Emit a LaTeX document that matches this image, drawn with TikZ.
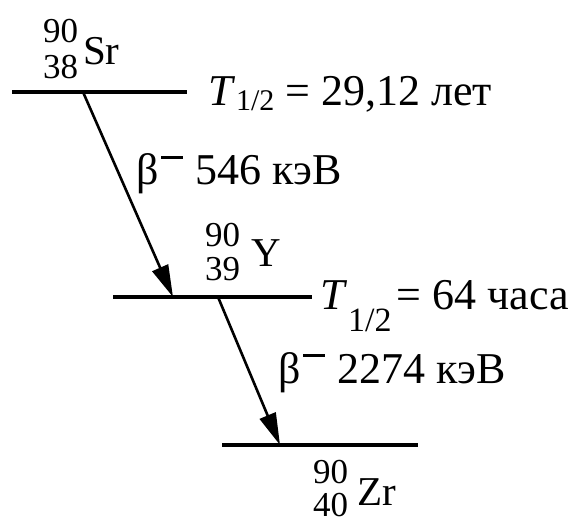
\documentclass[tikz,border=0pt]{standalone}
\usepackage{fontspec}
\setmainfont{Liberation Serif}
\usetikzlibrary{arrows.meta}
% T_{1/2} with a lowered 1/2
\newcommand{\thalf}[2]{\textit{T}\kern.02em\raisebox{#1}{\fontsize{#2}{30}\selectfont 1/2}}
% beta-minus with a long raised bar
\newcommand{\bminus}{β\kern.06em\raisebox{.6em}{\rule{.5em}{.06em}}\hspace{.28em}}
\begin{document}
\begin{tikzpicture}[x=1pt,y=-1pt,
  level/.style={line width=3.8pt},
  decay/.style={line width=2.6pt,-{Triangle[length=32pt,width=17pt]}},
  txt/.style={inner sep=0pt,anchor=base west,font=\fontsize{44}{48}\selectfont},
  sym/.style={inner sep=0pt,anchor=base west,font=\fontsize{41}{44}\selectfont},
  num/.style={inner sep=0pt,anchor=base west,font=\fontsize{35}{36}\selectfont}]
  \useasboundingbox (0,0) rectangle (570,518);
  % levels
  \coordinate (srL) at (12,92);   \coordinate (srR) at (187,92);
  \coordinate (yL)  at (113,297); \coordinate (yR)  at (312,297);
  \coordinate (zrL) at (222,445); \coordinate (zrR) at (418,445);
  \draw[level] (srL) -- (srR);
  \draw[level] (yL) -- (yR);
  \draw[level] (zrL) -- (zrR);
  % decays
  \coordinate (d1s) at (83,92);  \coordinate (d1e) at (173,297);
  \coordinate (d2s) at (218,297); \coordinate (d2e) at (280,445);
  \draw[decay] (d1s) -- (d1e);
  \draw[decay] (d2s) -- (d2e);
  % nuclides
  \node[num] (srA) at (43,43) {90};
  \node[num] (srZ) at (43,79) {38};
  \node[sym] (sr)  at (83,65) {Sr};
  \node[num] (yA)  at (205,247) {90};
  \node[num] (yZ)  at (205,281) {39};
  \node[sym] (y)   at (251,267) {Y};
  \node[num] (zrA) at (313,483) {90};
  \node[num] (zrZ) at (313,516) {40};
  \node[sym] (zr)  at (357,505) {Zr};
  % labels
  \node[txt] (srT) at (208,106) {\thalf{-.1em}{30} = 29,12 лет};
  \node[txt] (yT)  at (320,310) {\thalf{-.5em}{34}\kern.12em= 64 часа};
  \node[txt] (b1)  at (136,185) {\bminus 546 кэВ};
  \node[txt] (b2)  at (278,383) {\bminus 2274 кэВ};
\end{tikzpicture}
\end{document}
